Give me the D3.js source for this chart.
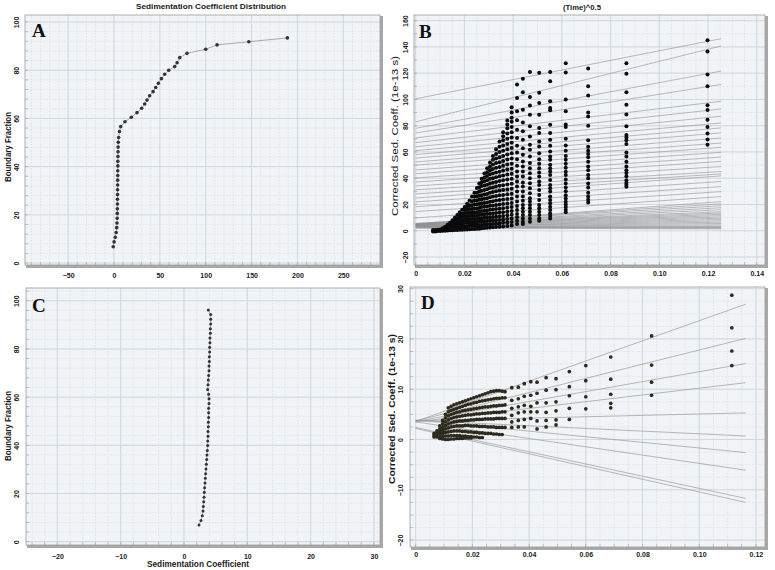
<!DOCTYPE html>
<html><head><meta charset="utf-8">
<script src="https://cdn.jsdelivr.net/npm/d3@7"></script>
<style>
body{margin:0;background:#fff}
svg{display:block}
</style></head><body>
<svg id="fig" width="775" height="570"></svg>
<script>
// ---- panel A: boundary fraction vs sedimentation coefficient
const aSed = [-0.8, 0.1, 1.4, 2.4, 3.0, 3.3, 3.5, 3.6, 3.7, 3.8, 3.8, 3.9, 3.9, 4.0, 4.0, 4.1, 4.1, 4.2, 4.2, 4.3, 4.4, 4.5, 4.7, 5.1, 6.0, 7.3,
  12, 18.9, 25.1, 30.2, 33.5, 36, 38.9, 42.6, 45.5, 48.4, 51.7, 55.3, 59.7, 66.2, 68.8, 71.7, 79.6, 100, 112.4, 147, 189];
const aFrac = [6.8, 8.8, 10.7, 12.7, 14.7, 16.6, 18.6, 20.6, 22.5, 24.5, 26.5, 28.4, 30.4, 32.4, 34.4, 36.3, 38.3, 40.3, 42.2, 44.2, 46.2, 48.1, 50.1, 52.1, 54.6, 56.6,
  58.6, 60.5, 62.4, 64.2, 66, 67.6, 69.4, 71.1, 72.8, 74.6, 76.5, 78.3, 80, 81.5, 83.1, 85.2, 87, 88.7, 90.5, 91.8, 93.4];

// ---- panel C
const cSed = [2.37, 2.68, 2.89, 3.0, 3.05, 3.11, 3.16, 3.21, 3.26, 3.32, 3.37, 3.42, 3.47, 3.53, 3.58, 3.63, 3.68, 3.74, 3.74, 3.79, 3.79, 3.84, 3.84, 3.89,
  3.89, 3.89, 3.95, 3.95, 3.89, 3.74, 3.79, 3.84, 3.89, 3.95, 3.95, 4.0, 4.0, 4.05, 4.05, 4.1, 4.1, 4.16, 4.16, 4.21, 4.21, 4.21, 3.84];
const cFrac = [6.9, 8.8, 10.8, 12.7, 14.6, 16.6, 18.5, 20.5, 22.4, 24.4, 26.3, 28.2, 30.2, 32.1, 34.1, 36.0, 37.9, 39.9, 41.8, 43.8, 45.7, 47.7, 49.6, 51.5,
  53.5, 55.4, 57.4, 59.3, 61.2, 63.2, 65.1, 67.1, 69.0, 71.0, 72.9, 74.8, 76.8, 78.7, 80.7, 82.6, 84.5, 86.5, 88.4, 90.4, 92.3, 94.3, 96.2];

// ---- panel B: fitted lines (value at x=0 and at the line end) and scans
const bLineX = [0, 0.1254];
const bLineStart = [100.5, 82.9, 78, 74.4, 70.7, 67.1, 63.9, 61, 58, 55.4, 52.4, 50, 46.3, 43.4, 40.2, 37.1, 34.1, 31.2, 28, 24.9, 22, 18.3, 14.6, 9.8, 4.9,
  5.5, 5.5, 5, 5, 4.8, 4.6, 4.5, 4.4, 4.2, 4.0, 3.8, 3.6, 3.5, 3.4, 3.2, 3.0, 2.8, 2.5, 2.2, 2.0];
const bLineEnd = [146.3, 140.7, 121.6, 111.4, 98.6, 92.8, 87.2, 82.1, 78.3, 74.5, 70.6, 66.8, 63.5, 59.7, 56.1, 52.8, 48.9, 45.1, 43.3, 41.8, 37.5, 33.6, 29.8, 26, 22.2,
  20.5, 19, 17.5, 16, 14.5, 13.5, 12.5, 11.5, 10.5, 9.5, 8.5, 7.5, 6.5, 5.5, 4.5, 3.5, 3, 2.5, 2, 1.5];
const bScanX = [0.0071, 0.0081, 0.0091, 0.0101, 0.0111, 0.0121, 0.0131, 0.0141, 0.0151, 0.0161, 0.0171, 0.0181, 0.0191, 0.0201, 0.0211, 0.0221,
  0.0231, 0.0241, 0.0251, 0.0261, 0.0271, 0.0282, 0.0293, 0.0305, 0.0317, 0.0330, 0.0344, 0.0359, 0.0376, 0.0394,
  0.0416, 0.0440, 0.0469, 0.0507, 0.0552, 0.0616, 0.0708, 0.0865, 0.1198];
const bScanS = [
  [-0.5, 0.5], [-0.5, 0.5], [-0.3, 0.8], [-0.2, 1.0], [0, 1.8], [0, 1.5, 3], [0.2, 1.6, 3, 4.5], [0.3, 2, 4, 6],
  [0.4, 2.4, 4.4, 6.4, 8], [0.5, 2.5, 4.5, 6.5, 8.5, 10], [0.6, 2.8, 5, 7.2, 9.5, 12], [0.7, 3, 5.3, 7.6, 10, 12, 14],
  [0.8, 3, 5.5, 8, 10.5, 13, 16], [1, 3.5, 6, 8.5, 11, 13.5, 16, 18], [1, 3.5, 6, 8.5, 11, 13.5, 16, 18.5, 20.5],
  [1.2, 3.7, 6.2, 8.7, 11.2, 13.7, 16.5, 19.5, 23], [1.3, 4, 6.5, 9, 11.5, 14, 16.5, 19.5, 22.5, 26],
  [1.4, 4, 6.5, 9, 11.5, 14, 17, 20, 23, 26, 29], [1.5, 4, 6.5, 9, 11.5, 14, 17, 20, 23, 26, 29, 32.5],
  [1.6, 4.2, 6.8, 9.4, 12, 14.6, 17.4, 20.4, 23.5, 26.6, 29.8, 33, 36],
  [1.8, 4.4, 7, 9.6, 12.2, 15, 18, 21, 24, 27, 30.5, 34, 37, 39.5],
  [2, 4.6, 7.2, 9.8, 12.5, 15.2, 18.2, 21.2, 24.4, 27.6, 31, 34.4, 37.6, 40.6, 43.5],
  [2.2, 4.8, 7.4, 10, 12.7, 15.5, 18.5, 21.5, 24.8, 28, 31.5, 35, 38.4, 41.6, 44.6, 47.5],
  [2.4, 5, 7.6, 10.2, 13, 16, 19, 22, 25.5, 29, 32.5, 36, 39.5, 43, 46, 49, 52],
  [2.6, 5.2, 7.8, 10.5, 13.2, 16.2, 19.3, 22.5, 26, 29.5, 33, 36.5, 40, 43.5, 47, 50.5, 54, 57],
  [2.8, 5.4, 8, 10.7, 13.5, 16.5, 19.6, 23, 26.5, 30, 33.6, 37.2, 40.8, 44.4, 48, 51.5, 55, 58.5, 62],
  [3, 5.6, 8.2, 11, 13.8, 16.8, 20, 23.4, 27, 30.6, 34.2, 37.8, 41.4, 45, 48.6, 52.2, 56, 60, 64, 68],
  [3.3, 6, 8.6, 11.3, 14.1, 17.1, 20.3, 23.7, 27.3, 31, 34.7, 38.4, 42.1, 45.8, 49.5, 53.2, 57, 61, 65, 69, 72, 75],
  [3.6, 6.3, 9, 11.7, 14.5, 17.5, 20.7, 24.1, 27.7, 31.4, 35.2, 39, 42.8, 46.6, 50.4, 54.2, 58, 62, 66, 70, 74, 78, 81, 84],
  [4, 6.7, 9.4, 12.1, 15, 18, 21.2, 24.6, 28.2, 32, 35.8, 39.6, 43.4, 47.2, 51, 55, 59, 63, 67, 71, 75, 79, 83, 86, 90, 94],
  [111.3, 101.1, 91, 84.1, 76.9, 70.6, 64.7, 59.6, 54.5, 49.4, 45.1, 41.3, 37.5, 33.6, 29.8, 26, 22.2, 18.9, 15.8, 12.7, 10.2, 7.6, 5.1],
  [115.7, 105.5, 92.2, 82.5, 75.7, 69.3, 62.9, 57.8, 52.7, 48.9, 45.1, 41.3, 36.7, 33.6, 29.8, 26, 22.9, 19.6, 17.1, 14.5, 12, 9.4, 6.9, 5.1],
  [120.8, 101.9, 95.3, 88.4, 79.5, 71.8, 65.5, 61.7, 56.6, 51.5, 47.6, 43.8, 40, 36.2, 32.4, 28.5, 24.7, 22.2, 19.6, 17.1, 14.5, 12, 9.4, 6.9],
  [120.3, 105, 97.3, 88.4, 78.2, 74.4, 68, 64.2, 59.1, 54.5, 51, 47.6, 44.3, 41.3, 37.5, 34.9, 31.1, 27.3, 23.4, 19.6, 17.1, 14.5, 12, 9.4, 7.6],
  [120.8, 113.9, 98.6, 93.5, 91.7, 80.8, 74.4, 69.3, 64.7, 60.4, 56.6, 54, 50.2, 47.6, 45.1, 42.5, 38.7, 34.9, 32.4, 29.8, 26, 23.4, 20.9, 18.3, 15.8, 13.2, 11.2, 9.4],
  [127.5, 120.5, 100, 91, 81, 79, 70, 65, 61, 57, 54, 51, 48, 45, 42.5, 39, 36, 33, 30, 27, 24.5, 22, 20, 18, 16, 14],
  [123.5, 110, 103, 90, 87, 80, 69, 64, 61, 58.5, 56, 52.5, 49, 46, 42.5, 40, 36, 33, 29, 26, 23.5, 21.5],
  [127.5, 119.5, 105.5, 96, 88.5, 79.5, 73, 71, 69, 66, 59.5, 56.5, 52.5, 49, 46, 44, 41.5, 38.5, 36.5, 35, 33.5],
  [145, 136.5, 119, 110, 95.5, 92, 84.5, 79, 74, 69.5, 65.5]
];

// ---- panel D: fitted lines, early scans (rows = boundary fractions), late scans
const dLineX = [0, 0.1164];
const dLineStart = [3.6, 3.7, 3.6, 3.5, 3.7, 3.8, 3.9, 3.5, 2.4, 2.2];
const dLineEnd = [26.9, 20.1, 15.1, 11.3, 5.3, 0.7, -2.6, -6.1, -11.7, -12.5];
const dScanX = [0.0065, 0.0075, 0.0085, 0.0095, 0.0105, 0.0115, 0.0125, 0.0135, 0.0145, 0.0155, 0.0165, 0.0175, 0.0185,
  0.0195, 0.0205, 0.0215, 0.0225, 0.0235, 0.0245, 0.0255, 0.0265, 0.0275, 0.0285, 0.0295, 0.0305, 0.0315];
const dRows = [
  [null, null, null, null, null, 6.3, 6.6, 6.9, 7.1, 7.3, 7.5, 7.7, 7.9, 8.1, 8.3, 8.5, 8.7, 8.9, 9.1, 9.3, 9.5, 9.6, 9.7, 9.7, 9.6, 9.5],
  [null, null, null, null, 5.0, 5.5, 5.8, 6.0, 6.2, 6.4, 6.6, 6.8, 7.0, 7.1, 7.3, 7.4, 7.6, 7.7, 7.8, 7.9, 8.0, 8.1, 8.2, 8.2, 8.3, 8.3],
  [null, null, null, 3.8, 4.3, 4.7, 5.0, 5.2, 5.4, 5.5, 5.7, 5.8, 5.9, 6.0, 6.1, 6.2, 6.3, 6.4, 6.5, 6.5, 6.6, 6.7, 6.7, 6.8, 6.8, 6.9],
  [null, null, 2.7, 3.1, 3.5, 3.9, 4.2, 4.4, 4.5, 4.6, 4.7, 4.8, 4.9, 4.9, 5.0, 5.1, 5.1, 5.2, 5.2, 5.3, 5.3, 5.4, 5.4, 5.4, 5.5, 5.5],
  [null, 1.7, 2.1, 2.4, 2.8, 3.1, 3.3, 3.5, 3.6, 3.7, 3.7, 3.8, 3.8, 3.9, 3.9, 4.0, 4.0, 4.0, 4.1, 4.1, 4.1, 4.1, 4.2, 4.2, 4.2, 4.2],
  [1.2, 1.3, 1.6, 1.8, 2.1, 2.3, 2.5, 2.6, 2.7, 2.7, 2.7, 2.8, 2.8, 2.7, 2.7, 2.7, 2.6, 2.6, 2.6, 2.5, 2.5, 2.5, 2.4, 2.4, 2.4, 2.4],
  [0.8, 0.9, 1.1, 1.2, 1.4, 1.5, 1.6, 1.7, 1.7, 1.7, 1.6, 1.6, 1.5, 1.5, 1.4, 1.4, 1.3, 1.3, 1.2, 1.2, 1.2, 1.1, 1.1, 1.0, 1.0, null],
  [0.5, 0.5, 0.6, 0.6, 0.7, 0.7, 0.8, 0.8, 0.8, 0.8, 0.7, 0.7, 0.6, 0.6, 0.5, 0.5, 0.4, 0.4, null, null, null, null, null, null, null, null],
  [null, null, 0.2, 0.1, 0.0, 0.0, 0.1, 0.1, 0.2, 0.2, 0.2, 0.3, 0.3, 0.3, null, null, null, null, null, null, null, null, null, null, null, null]
];
const dColX = [0.0339, 0.0362, 0.0383, 0.0406, 0.0428, 0.0460, 0.0495, 0.0542, 0.0600, 0.0688, 0.0832, 0.1115];
const dColS = [
  [10.3, 7.8, 6.2, 4.8, 3.5, 2.4], [10.4, 8.1, 6.5, 5.3, 3.8, 2.5], [11.1, 8.6, 6.8, 5.5, 4.0, 2.5], [11.5, 8.8, 6.6, 5.5, 4.2],
  [11.4, 9.2, 7.3, 5.5, 3.7, 2.1], [12.3, 9.8, 7.3, 5.4, 3.8, 2.5], [12.1, 9.9, 7.5, 5.7, 3.9, 2.9], [13.5, 10.5, 8.7, 6.2, 4.0],
  [14.7, 11.7, 8.5, 6.1], [16.4, 12.0, 9.0, 7.2, 6.3], [20.6, 14.8, 11.4, 8.8], [28.7, 22.2, 17.6, 14.7]
];

const svg = d3.select("#fig");
const SANS = "Liberation Sans, Arial, sans-serif";
const fmt2 = d => d === 0 ? "0" : d3.format(".2f")(d);

function panel(p) {
  const x = d3.scaleLinear().domain(p.xd).range([p.l, p.r]);
  const y = d3.scaleLinear().domain(p.yd).range([p.b, p.t]);
  const w = p.r - p.l, h = p.b - p.t;
  const g = svg.append("g");
  g.append("rect").attr("x", p.l + 1).attr("y", p.t + 1).attr("width", w + 2).attr("height", h + 2).attr("fill", "#a8a8a8");
  g.append("rect").attr("x", p.l).attr("y", p.t).attr("width", w).attr("height", h).attr("fill", "#f1f4f6");

  const xm = d3.range(Math.ceil(p.xd[0] / p.xs) * p.xs, p.xd[1], p.xs);
  const ym = d3.range(Math.ceil(p.yd[0] / p.ys) * p.ys, p.yd[1], p.ys);
  g.append("g").selectAll("line").data(xm).join("line")
    .attr("x1", d => x(d)).attr("x2", d => x(d)).attr("y1", p.t).attr("y2", p.b)
    .attr("stroke", "#d3d9dd").attr("stroke-width", 0.6).attr("stroke-dasharray", "1.5,1.5");
  g.append("g").selectAll("line").data(ym).join("line")
    .attr("y1", d => y(d)).attr("y2", d => y(d)).attr("x1", p.l).attr("x2", p.r)
    .attr("stroke", "#d3d9dd").attr("stroke-width", 0.6).attr("stroke-dasharray", "1.5,1.5");
  g.append("g").selectAll("line").data(p.xt).join("line")
    .attr("x1", d => x(d)).attr("x2", d => x(d)).attr("y1", p.t).attr("y2", p.b)
    .attr("stroke", "#c9d0d5").attr("stroke-width", 0.7);
  g.append("g").selectAll("line").data(p.yt).join("line")
    .attr("y1", d => y(d)).attr("y2", d => y(d)).attr("x1", p.l).attr("x2", p.r)
    .attr("stroke", "#c9d0d5").attr("stroke-width", 0.7);
  // little ticks along bottom and left edges
  g.append("g").selectAll("line").data(xm).join("line")
    .attr("x1", d => x(d)).attr("x2", d => x(d)).attr("y1", p.b - 3).attr("y2", p.b)
    .attr("stroke", "#9aa0a4").attr("stroke-width", 0.6);
  g.append("g").selectAll("line").data(ym).join("line")
    .attr("y1", d => y(d)).attr("y2", d => y(d)).attr("x1", p.l).attr("x2", p.l + 3)
    .attr("stroke", "#9aa0a4").attr("stroke-width", 0.6);
  g.append("rect").attr("x", p.l).attr("y", p.t).attr("width", w).attr("height", h)
    .attr("fill", "none").attr("stroke", "#9c9c9c").attr("stroke-width", 0.8);

  const ax = g.append("g").attr("transform", `translate(0,${p.b})`)
    .call(d3.axisBottom(x).tickValues(p.xt).tickSize(0).tickPadding(p.xpad).tickFormat(p.xf));
  ax.select(".domain").remove();
  ax.selectAll("text").attr("font-size", 7).attr("font-weight", "bold").attr("fill", "#1a1a1a")
    .style("font-family", SANS);
  const ay = g.append("g").attr("transform", `translate(${p.l},0)`)
    .call(d3.axisLeft(y).tickValues(p.yt).tickSize(0).tickFormat(d3.format("d")));
  ay.select(".domain").remove();
  ay.selectAll("text").attr("x", 0).attr("dy", null).attr("y", -p.ypad).attr("transform", "rotate(-90)")
    .attr("text-anchor", "middle").attr("font-size", 7).attr("font-weight", "bold").attr("fill", "#1a1a1a")
    .style("font-family", SANS);

  g.append("clipPath").attr("id", p.id).append("rect").attr("x", p.l).attr("y", p.t).attr("width", w).attr("height", h);
  const m = g.append("g").attr("clip-path", `url(#${p.id})`);
  g.append("text").attr("x", p.l + p.lx).attr("y", p.t + p.ly).text(p.letter)
    .style("font-family", "'Liberation Serif', 'DejaVu Serif', serif").attr("font-weight", "bold").attr("font-size", 19).attr("fill", "#111");
  return { x, y, m };
}

function label(txt, x, y, size, len, weight, rot) {
  svg.append("text").attr("transform", `translate(${x},${y})` + (rot ? " rotate(-90)" : ""))
    .attr("text-anchor", "middle").attr("font-size", size).attr("font-weight", weight).attr("fill", "#1a1a1a")
    .style("font-family", SANS)
    .attr("textLength", len).attr("lengthAdjust", "spacingAndGlyphs").text(txt);
}

// ---------- A
const A = panel({ id: "ca", letter: "A", l: 25, r: 380, t: 15, b: 265, xd: [-97, 290], yd: [-0.8, 102.9],
  xt: [-50, 0, 50, 100, 150, 200, 250], yt: [0, 20, 40, 60, 80, 100], xs: 10, ys: 4, xpad: 8.3, ypad: 5.6,
  xf: d3.format("d"), lx: 7, ly: 22 });
const aPts = d3.zip(aSed, aFrac);
A.m.append("path").datum(aPts).attr("fill", "none").attr("stroke", "#8a8a8a").attr("stroke-width", 0.7)
  .attr("d", d3.line().x(d => A.x(d[0])).y(d => A.y(d[1])));
A.m.selectAll("circle").data(aPts).join("circle").attr("cx", d => A.x(d[0])).attr("cy", d => A.y(d[1]))
  .attr("r", 1.8).attr("fill", "#333");

// ---------- B
const B = panel({ id: "cb", letter: "B", l: 414, r: 765, t: 15, b: 265, xd: [-0.0007, 0.1434], yd: [-26.1, 164.3],
  xt: [0, 0.02, 0.04, 0.06, 0.08, 0.10, 0.12, 0.14], yt: [-20, 0, 20, 40, 60, 80, 100, 120, 140, 160], xs: 0.005, ys: 10,
  xpad: 6.5, ypad: 6.5, xf: fmt2, lx: 5, ly: 23 });
B.m.selectAll("line.fit").data(bLineStart.map((s, i) => [s, bLineEnd[i]])).join("line").attr("class", "fit")
  .attr("x1", B.x(bLineX[0])).attr("x2", B.x(bLineX[1])).attr("y1", d => B.y(d[0])).attr("y2", d => B.y(d[1]))
  .attr("stroke", "#8f8f8f").attr("stroke-width", 0.6);
const bPts = bScanX.flatMap((x, i) => bScanS[i].map(s => [x, s]));
B.m.selectAll("circle").data(bPts).join("circle").attr("cx", d => B.x(d[0])).attr("cy", d => B.y(d[1]))
  .attr("r", 2).attr("fill", "#0b0b0b");

// ---------- C
const C = panel({ id: "cc", letter: "C", l: 26, r: 380, t: 288, b: 545, xd: [-24.96, 30.96], yd: [-1.37, 105.3],
  xt: [-20, -10, 0, 10, 20, 30], yt: [0, 20, 40, 60, 80, 100], xs: 2, ys: 4, xpad: 9, ypad: 6.6,
  xf: d3.format("d"), lx: 6, ly: 24 });
const cPts = d3.zip(cSed, cFrac);
C.m.append("path").datum(cPts).attr("fill", "none").attr("stroke", "#8a8a8a").attr("stroke-width", 0.7)
  .attr("d", d3.line().x(d => C.x(d[0])).y(d => C.y(d[1])));
C.m.selectAll("circle").data(cPts).join("circle").attr("cx", d => C.x(d[0])).attr("cy", d => C.y(d[1]))
  .attr("r", 1.5).attr("fill", "#333");

// ---------- D
const D = panel({ id: "cd", letter: "D", l: 410, r: 765, t: 287, b: 547, xd: [-0.002, 0.1232], yd: [-21.37, 30.32],
  xt: [0, 0.02, 0.04, 0.06, 0.08, 0.10, 0.12], yt: [-20, -10, 0, 10, 20, 30], xs: 0.005, ys: 2.5,
  xpad: 5.3, ypad: 7.3, xf: fmt2, lx: 11, ly: 22 });
D.m.selectAll("line.fit").data(dLineStart.map((s, i) => [s, dLineEnd[i]])).join("line").attr("class", "fit")
  .attr("x1", D.x(dLineX[0])).attr("x2", D.x(dLineX[1])).attr("y1", d => D.y(d[0])).attr("y2", d => D.y(d[1]))
  .attr("stroke", "#9a9a9a").attr("stroke-width", 0.7);
const dPts = dRows.flatMap(row => row.map((s, j) => s === null ? null : [dScanX[j], s]).filter(v => v))
  .concat(dColX.flatMap((x, i) => dColS[i].map(s => [x, s])));
D.m.selectAll("circle").data(dPts).join("circle").attr("cx", d => D.x(d[0])).attr("cy", d => D.y(d[1]))
  .attr("r", 1.85).attr("fill", "#2c291d");

// ---------- titles
label("Sedimentation Coefficient Distribution", 211, 9, 8, 150, "bold", false);
label("(Time)^0.5", 582, 10, 8, 38, "bold", false);
label("Boundary Fraction", 10.8, 147, 9, 70, "bold", true);
label("Boundary Fraction", 10.8, 426, 9, 70, "bold", true);
label("Sedimentation Coefficient", 198, 567, 9, 102, "bold", false);
label("Corrected Sed. Coeff. (1e-13 s)", 397.5, 136, 9, 160, "normal", true);
label("Corrected Sed. Coeff. (1e-13 s)", 394.5, 409, 9, 150, "bold", true);
</script>
</body></html>
